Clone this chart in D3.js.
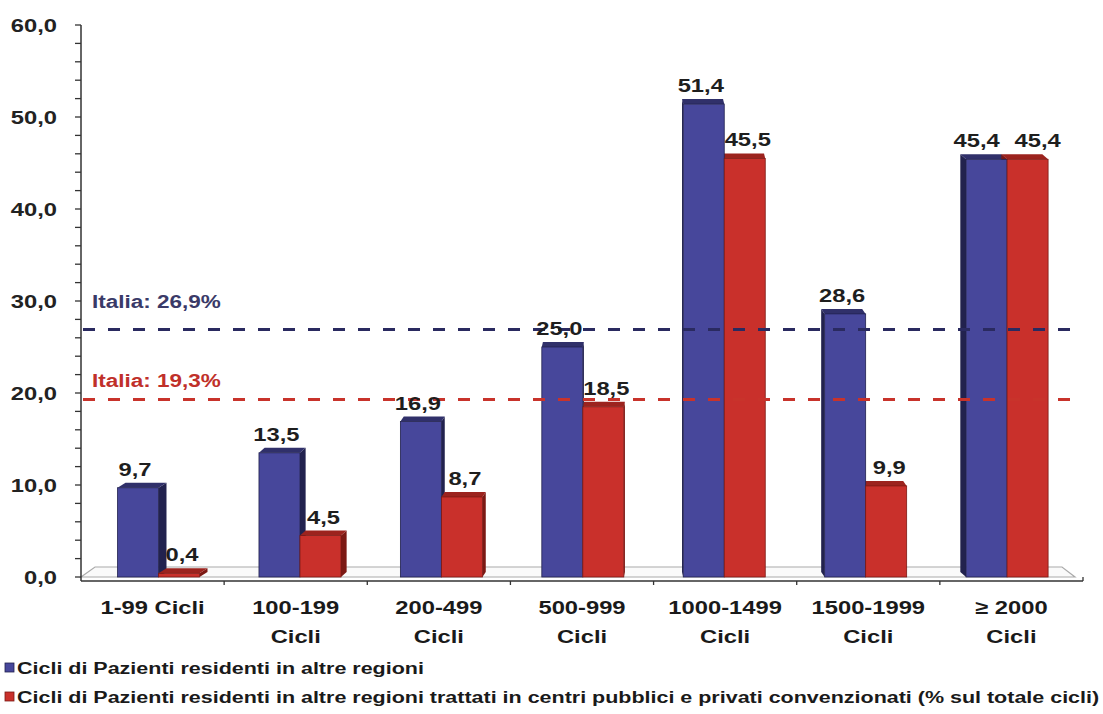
<!DOCTYPE html>
<html lang="it">
<head>
<meta charset="UTF-8">
<title>Cicli per classe di attività</title>
<style>
  body { margin: 0; background: #ffffff; }
  svg text { font-family: "Liberation Sans", Arial, sans-serif; font-weight: bold; }
</style>
</head>
<body>
<div class="chart"></div>
<script src="https://d3js.org/d3.v7.min.js"></script>
<script>
// data
const categories = [["1-99 Cicli"], ["100-199", "Cicli"], ["200-499", "Cicli"], ["500-999", "Cicli"],
                    ["1000-1499", "Cicli"], ["1500-1999", "Cicli"], ["\u2265 2000", "Cicli"]]
const residenti = [9.7, 13.5, 16.9, 25.0, 51.4, 28.6, 45.4]
const convenzionati = [0.4, 4.5, 8.7, 18.5, 45.5, 9.9, 45.4]
const seriesNames = ["Cicli di Pazienti residenti in altre regioni",
                     "Cicli di Pazienti residenti in altre regioni trattati in centri pubblici e privati convenzionati (% sul totale cicli)"]
const italia = [26.9, 19.3]
const italiaLabels = ["Italia: 26,9%", "Italia: 19,3%"]
const yTicks = [0, 10, 20, 30, 40, 50, 60]

const W = 1103, H = 714
const colors = [
    {front: '#47479b', side: '#22224e', top: '#30306a', line: '#2a2a60', label: '#3a3a68'},
    {front: '#c9302b', side: '#7c1914', top: '#9c231e', line: '#c8332b', label: '#c0302a'}
]
const comma = v => d3.format('.1f')(v).replace('.', ',')
const SX = 1.25   // the original text is a bit stretched horizontally

const svg = d3.select('.chart').append('svg')
    .attr('width', W).attr('height', H)

const y = d3.scaleLinear().domain([0, 60]).range([577, 25])
const x = d3.scaleBand().domain(d3.range(categories.length)).range([81, 1083])

// stretched text helper
function label(g, tx, ty, str, size, anchor, fill) {
    return g.append('g')
        .attr('transform', 'translate(' + tx + ',' + ty + ') scale(' + SX + ',1)')
        .append('text')
        .attr('text-anchor', anchor)
        .attr('font-size', size)
        .attr('fill', fill)
        .text(str)
}

// floor
const y0 = y(0)
svg.append('polygon')
    .attr('points', [[81, y0], [95, y0 - 10], [1062, y0 - 10], [1075, y0]].join(' '))
    .attr('fill', '#fafafa')
    .attr('stroke', '#aaaaaa')
    .attr('stroke-width', 1.2)

// Y axis
const yAxis = svg.append('g')
yAxis.append('line')
    .attr('x1', 81).attr('x2', 81)
    .attr('y1', y(60)).attr('y2', y0 + 4)
    .attr('stroke', '#333').attr('stroke-width', 1.5)
yAxis.selectAll('.minor')
    .data(d3.range(0, 61, 2))
    .enter().append('line')
    .attr('x1', 75).attr('x2', 81)
    .attr('y1', d => y(d)).attr('y2', d => y(d))
    .attr('stroke', '#333').attr('stroke-width', 1.3)
yTicks.forEach(t => label(yAxis, 57, y(t) + 7, comma(t), 19, 'end', '#222'))

// X axis
const xAxis = svg.append('g')
xAxis.append('line')
    .attr('x1', 81).attr('x2', 1083)
    .attr('y1', y0 + 4).attr('y2', y0 + 4)
    .attr('stroke', '#333').attr('stroke-width', 1.5)
xAxis.selectAll('.tick')
    .data(d3.range(1, categories.length))
    .enter().append('line')
    .attr('x1', i => x(i)).attr('x2', i => x(i))
    .attr('y1', y0 + 4).attr('y2', y0 + 8)
    .attr('stroke', '#333').attr('stroke-width', 1.3)
xAxis.append('line')
    .attr('x1', 1083).attr('x2', 1083)
    .attr('y1', y0).attr('y2', y0 + 4)
    .attr('stroke', '#333').attr('stroke-width', 1.3)
categories.forEach((lines, i) => {
    const cx = x(i) + x.bandwidth() / 2
    lines.forEach((s, k) => label(xAxis, cx, 614 + k * 29, s, 19, 'middle', '#1a1a1a'))
})

// bars, with a little perspective
const vx = 650, bw = 41, dy = -5
const bars = []
categories.forEach((c, i) => {
    const cx = x(i) + x.bandwidth() / 2
    const shift = (vx - cx) * 0.012
    const dx = (vx - cx) * 0.016
    // labels of two bars at the same height are pushed apart
    const spread = Math.abs(residenti[i] - convenzionati[i]) < 2 ? 10 : 3
    ;[residenti[i], convenzionati[i]].forEach((v, s) => {
        const x0 = cx + shift - bw + s * bw
        bars.push({i: i, s: s, v: v, x0: x0, x1: x0 + bw, yt: y(v), yb: y0, dx: dx,
                   lx: x0 + bw / 2 + (s ? spread : -spread)})
    })
})

const back = svg.append('g')
bars.forEach(b => {
    const ex = b.dx > 0 ? b.x1 : b.x0
    back.append('polygon')
        .attr('points', [[ex, b.yt], [ex + b.dx, b.yt + dy], [ex + b.dx, b.yb + dy], [ex, b.yb]].join(' '))
        .attr('fill', colors[b.s].side)
    back.append('polygon')
        .attr('points', [[b.x0, b.yt], [b.x0 + b.dx, b.yt + dy], [b.x1 + b.dx, b.yt + dy], [b.x1, b.yt]].join(' '))
        .attr('fill', colors[b.s].top)
})

svg.append('g').selectAll('rect')
    .data(bars)
    .enter().append('rect')
    .attr('x', d => d.x0)
    .attr('y', d => d.yt)
    .attr('width', bw)
    .attr('height', d => d.yb - d.yt)
    .attr('fill', d => colors[d.s].front)
    .attr('stroke', d => colors[d.s].side)
    .attr('stroke-width', 0.8)

// reference lines (Italia)
const refs = svg.append('g')
italia.forEach((v, k) => {
    refs.append('line')
        .attr('x1', 83).attr('x2', 1070)
        .attr('y1', y(v)).attr('y2', y(v))
        .attr('stroke', colors[k].line)
        .attr('stroke-width', 3)
        .attr('stroke-dasharray', '12,13')
    label(refs, 92, y(v) - (k ? 12 : 22), italiaLabels[k], 18, 'start', colors[k].label)
})

// value labels
const vals = svg.append('g')
bars.forEach(b => {
    label(vals, b.lx, b.yt - 12, comma(b.v), 19, 'middle', '#1e1e1e')
})

// legend
const legend = svg.append('g')
const legendTexts = []
seriesNames.forEach((name, k) => {
    const ly = 668 + k * 29
    legend.append('rect')
        .attr('x', 5).attr('y', ly - 5)
        .attr('width', 9).attr('height', 9)
        .attr('fill', colors[k].front)
        .attr('stroke', colors[k].side).attr('stroke-width', 0.8)
    const g = legend.append('g')
    const t = g.append('text')
        .attr('font-size', 17)
        .attr('fill', '#1a1a1a')
        .attr('dy', 6)
        .text(name)
    legendTexts.push({g: g, t: t, ly: ly})
})
// fit the long line to the page width, same stretch for both lines
const lsx = 1083 / legendTexts[1].t.node().getComputedTextLength()
legendTexts.forEach(o => o.g.attr('transform', 'translate(17,' + o.ly + ') scale(' + lsx + ',1)'))
</script>
</body>
</html>
